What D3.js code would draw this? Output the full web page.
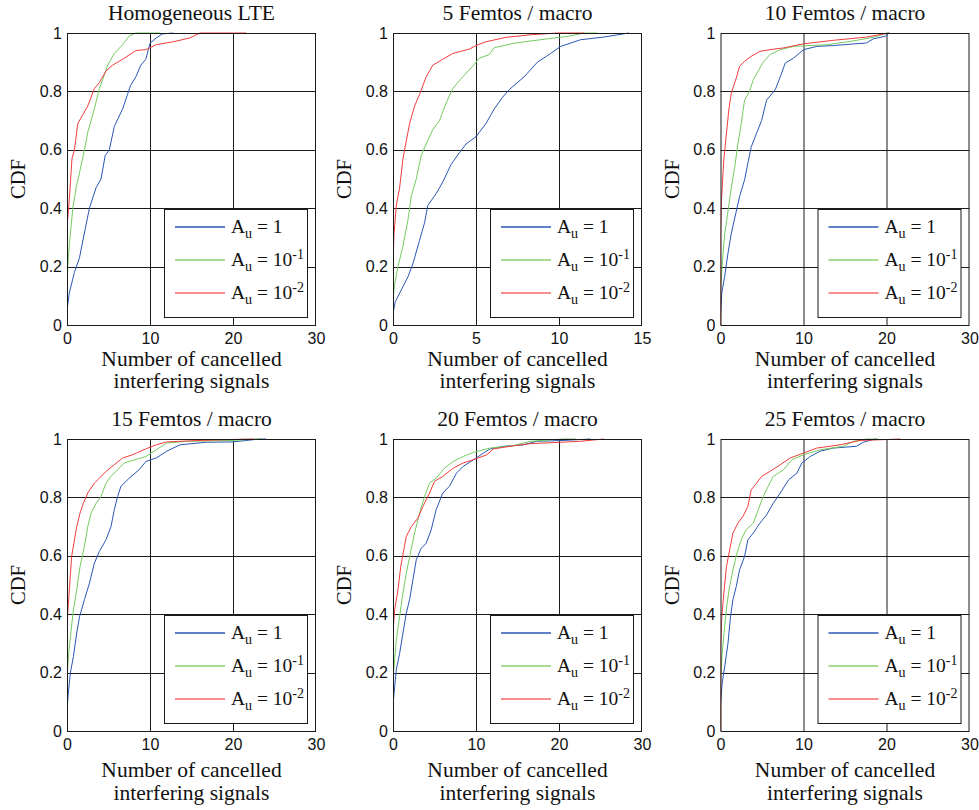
<!DOCTYPE html>
<html>
<head>
<meta charset="utf-8">
<script src="https://cdn.jsdelivr.net/npm/d3@7"></script>
<style>
  html, body { margin: 0; padding: 0; background: #fff; }
  svg { display: block; }
</style>
</head>
<body>
<svg id="chart" width="979" height="810"></svg>
<script>
// ---------------- DATA ----------------
const panelTitles = ["Homogeneous LTE", "5 Femtos / macro", "10 Femtos / macro",
                     "15 Femtos / macro", "20 Femtos / macro", "25 Femtos / macro"];
const xMaxValues = [30, 15, 30, 30, 30, 30];
const xTicks30 = [0, 10, 20, 30];
const xTicks15 = [0, 5, 10, 15];
const yTicks = [0, 0.2, 0.4, 0.6, 0.8, 1];
const yTickLabels = ["0", "0.2", "0.4", "0.6", "0.8", "1"];
const seriesNames = ["Au1", "Au01", "Au001"];
const legendExponents = [null, "-1", "-2"];
const xLabelLines = ["Number of cancelled", "interfering signals"];
const yLabel = "CDF";

// Homogeneous LTE
const lte_Au1 = [[0,0],[0,0.05],[0.28,0.11],[0.89,0.18],[1.5,0.23],[2.2,0.33],[2.7,0.40],[3.5,0.47],[4.1,0.50],[4.6,0.58],[5.1,0.60],[5.7,0.68],[6.7,0.74],[7.3,0.79],[7.65,0.82],[8.3,0.85],[8.9,0.89],[9.5,0.91],[10,0.965],[10.75,0.983],[11.5,0.997],[12.8,1.0]];
const lte_Au01 = [[0,0],[0,0.15],[0.2,0.25],[0.5,0.34],[0.7,0.40],[1.1,0.47],[1.5,0.52],[2.1,0.60],[2.5,0.66],[3.3,0.74],[3.9,0.81],[4.3,0.84],[4.9,0.89],[5.7,0.93],[6.7,0.96],[7.5,0.99],[8.3,1],[11.2,1]];
const lte_Au001 = [[0,0],[0,0.35],[0.08,0.36],[0.28,0.43],[0.6,0.57],[0.9,0.60],[1.3,0.69],[1.9,0.72],[2.5,0.75],[3.3,0.81],[3.9,0.83],[4.7,0.87],[5.5,0.89],[6.7,0.91],[8.3,0.94],[9.5,0.943],[10.75,0.96],[12.8,0.97],[14.8,0.983],[16,1.0],[21.6,1]];

// 5 Femtos / macro
const f5_Au1 = [[0,0],[0,0.04],[0.14,0.08],[0.5,0.12],[0.9,0.165],[1.2,0.21],[1.6,0.29],[1.9,0.35],[2.1,0.41],[2.6,0.45],[3.0,0.49],[3.5,0.55],[4.0,0.59],[4.4,0.62],[5.0,0.645],[5.6,0.69],[6.1,0.74],[6.6,0.78],[7.0,0.806],[7.9,0.85],[8.7,0.90],[9.5,0.93],[10.1,0.954],[11.3,0.977],[12.7,0.986],[14.2,1.0]];
const f5_Au01 = [[0,0],[0,0.09],[0.1,0.14],[0.3,0.2],[0.6,0.27],[0.9,0.36],[1.1,0.44],[1.4,0.50],[1.7,0.58],[2.0,0.62],[2.4,0.67],[2.8,0.70],[3.2,0.76],[3.6,0.81],[4.2,0.85],[4.8,0.886],[5.2,0.914],[5.8,0.926],[6.1,0.95],[7.4,0.966],[9.3,0.98],[10.7,0.99],[11.5,1.0],[12.3,1.0]];
const f5_Au001 = [[0,0],[0,0.21],[0.06,0.31],[0.2,0.41],[0.4,0.47],[0.6,0.57],[0.8,0.63],[1.0,0.69],[1.3,0.75],[1.6,0.79],[2.0,0.85],[2.4,0.89],[3.0,0.91],[3.6,0.93],[4.6,0.945],[5.0,0.957],[5.6,0.97],[6.8,0.985],[8.3,0.994],[9.9,1],[11.5,1]];

// 10 Femtos / macro
const f10_Au1 = [[0,0],[0,0.03],[0.16,0.11],[0.5,0.166],[0.9,0.246],[1.3,0.314],[1.85,0.383],[2.3,0.44],[2.9,0.497],[3.3,0.554],[3.7,0.61],[4.35,0.657],[4.95,0.70],[5.55,0.77],[6.6,0.806],[7.2,0.85],[7.8,0.897],[8.8,0.914],[10,0.943],[11.6,0.954],[13.6,0.957],[17.6,0.966],[18.4,0.98],[19.85,0.989],[20.3,1]];
const f10_Au01 = [[0,0],[0,0.12],[0.24,0.22],[0.5,0.31],[0.9,0.39],[1.3,0.47],[1.7,0.54],[2.1,0.62],[2.5,0.69],[2.9,0.77],[3.5,0.80],[3.95,0.84],[4.55,0.87],[5.15,0.90],[5.95,0.926],[7.2,0.943],[8.8,0.954],[12.8,0.96],[15.6,0.971],[18.4,0.985],[20,1],[20.4,1]];
const f10_Au001 = [[0,0],[0,0.31],[0.12,0.43],[0.4,0.566],[0.72,0.657],[1.0,0.737],[1.3,0.794],[1.9,0.846],[2.3,0.886],[2.9,0.903],[3.7,0.92],[4.75,0.937],[5.95,0.943],[7.6,0.949],[10,0.963],[13.6,0.975],[17.6,0.986],[20.3,1]];

// 15 Femtos / macro
const f15_Au1 = [[0,0],[0,0.07],[0.16,0.13],[0.4,0.198],[0.77,0.255],[1.17,0.335],[1.5,0.39],[2.1,0.45],[2.7,0.506],[3.3,0.575],[3.9,0.615],[4.7,0.655],[5.3,0.70],[5.7,0.758],[6.1,0.803],[6.5,0.838],[7.5,0.866],[8.7,0.895],[9.5,0.923],[10.75,0.935],[12,0.958],[13.6,0.98],[16.8,0.989],[20,0.99],[23.2,1],[24,1]];
const f15_Au01 = [[0,0],[0,0.18],[0.2,0.266],[0.5,0.346],[0.77,0.415],[1.17,0.483],[1.57,0.563],[2.1,0.632],[2.5,0.70],[2.9,0.746],[3.5,0.78],[4.1,0.803],[4.7,0.849],[5.3,0.872],[6.1,0.895],[6.9,0.918],[8.3,0.93],[9.5,0.94],[10.75,0.963],[12,0.986],[14.4,0.992],[20,0.995],[22.8,1],[23.5,1]];
const f15_Au001 = [[0,0],[0,0.29],[0.08,0.40],[0.28,0.483],[0.56,0.598],[0.9,0.655],[1.17,0.70],[1.57,0.746],[1.97,0.78],[2.5,0.815],[3.3,0.849],[3.9,0.866],[4.7,0.889],[5.7,0.912],[6.7,0.935],[7.9,0.946],[9.5,0.966],[10.75,0.98],[12,0.99],[16,0.995],[22,1],[22.5,1]];

// 20 Femtos / macro
const f20_Au1 = [[0,0],[0,0.09],[0.2,0.152],[0.4,0.21],[0.8,0.266],[1.2,0.335],[1.6,0.403],[2.0,0.45],[2.4,0.518],[2.8,0.586],[3.4,0.626],[4.0,0.643],[4.6,0.689],[5.2,0.758],[6.0,0.815],[6.8,0.838],[7.65,0.883],[8.45,0.906],[9.7,0.929],[10.9,0.952],[11.7,0.966],[13.3,0.975],[15.7,0.98],[17.3,0.992],[20.5,0.995],[23.8,1]];
const f20_Au01 = [[0,0],[0,0.18],[0.2,0.243],[0.4,0.312],[0.8,0.392],[1.13,0.46],[1.6,0.54],[2.1,0.61],[2.6,0.678],[3.2,0.746],[3.8,0.803],[4.4,0.849],[5.2,0.866],[6.2,0.9],[7.25,0.923],[8.45,0.94],[9.7,0.954],[11.7,0.969],[14.5,0.977],[16.5,0.992],[20.5,1],[22,1]];
const f20_Au001 = [[0,0],[0,0.34],[0.2,0.415],[0.6,0.483],[0.93,0.563],[1.3,0.62],[1.6,0.666],[2.2,0.70],[3.0,0.729],[3.6,0.769],[4.4,0.815],[5.0,0.855],[6.0,0.872],[7.25,0.90],[8.45,0.918],[9.7,0.929],[11.3,0.946],[12.1,0.966],[14.1,0.975],[16.5,0.984],[22.5,0.992],[25.4,1]];

// 25 Femtos / macro
const f25_Au1 = [[0,0],[0,0.09],[0.2,0.163],[0.5,0.22],[0.9,0.30],[1.2,0.39],[1.5,0.45],[1.9,0.495],[2.3,0.552],[2.9,0.598],[3.3,0.655],[3.95,0.678],[4.75,0.712],[5.55,0.74],[6.35,0.78],[7.2,0.815],[8.2,0.86],[9.2,0.883],[9.8,0.918],[10.8,0.94],[12,0.958],[13.6,0.969],[16.4,0.975],[17.2,0.989],[18.4,0.998],[18.8,1]];
const f25_Au01 = [[0,0],[0,0.17],[0.2,0.266],[0.5,0.358],[0.8,0.438],[1.1,0.495],[1.5,0.552],[2.0,0.61],[2.5,0.655],[3.1,0.69],[3.95,0.712],[4.55,0.758],[5.15,0.803],[5.75,0.838],[6.35,0.872],[7.6,0.895],[8.6,0.929],[10,0.946],[12,0.963],[14.8,0.975],[16,0.992],[17.6,1],[19,1]];
const f25_Au001 = [[0,0],[0,0.28],[0.16,0.392],[0.44,0.483],[0.72,0.563],[1.1,0.62],[1.5,0.678],[2.1,0.712],[2.7,0.735],[3.3,0.769],[3.7,0.826],[4.35,0.849],[4.95,0.872],[5.95,0.889],[7.2,0.912],[8.4,0.935],[10,0.952],[11.6,0.969],[14.4,0.98],[16.8,0.995],[21.7,1]];

const panelSeries = [
  [lte_Au1, lte_Au01, lte_Au001],
  [f5_Au1, f5_Au01, f5_Au001],
  [f10_Au1, f10_Au01, f10_Au001],
  [f15_Au1, f15_Au01, f15_Au001],
  [f20_Au1, f20_Au01, f20_Au001],
  [f25_Au1, f25_Au01, f25_Au001]
];

// ---------------- STYLE / LAYOUT ----------------
const colors = ["#2a56b4", "#74cc60", "#f23c3c"];
const legendColors = ["#2a56b4", "#a6dc94", "#f46a6a"];
const serif = "'Liberation Serif', 'Times New Roman', Times, serif";
const sans = "'Liberation Sans', Arial, Helvetica, sans-serif";
const colX = [67, 393, 720.5];
const rowY = [33, 439];
const plotW = 249, plotH = 292;
const xLabelOffsets = [[41, 63], [46, 69]];

const svg = d3.select("#chart");

panelTitles.forEach((title, i) => {
  const col = i % 3, row = Math.floor(i / 3);
  const left = colX[col], top = rowY[row];
  const g = svg.append("g").attr("transform", `translate(${left},${top})`);

  const x = d3.scaleLinear().domain([0, xMaxValues[i]]).range([0, plotW]);
  const y = d3.scaleLinear().domain([0, 1]).range([plotH, 0]);
  const xt = xMaxValues[i] === 15 ? xTicks15 : xTicks30;

  // grid
  g.append("g").selectAll("line").data(xt.slice(1, -1)).join("line")
    .attr("x1", d => Math.round(x(d)) + 0.5).attr("x2", d => Math.round(x(d)) + 0.5)
    .attr("y1", 0).attr("y2", plotH)
    .attr("stroke", "#1a1a1a").attr("stroke-width", 1);
  g.append("g").selectAll("line").data(yTicks.slice(1, -1)).join("line")
    .attr("y1", d => Math.round(y(d)) + 0.5).attr("y2", d => Math.round(y(d)) + 0.5)
    .attr("x1", 0).attr("x2", plotW)
    .attr("stroke", "#1a1a1a").attr("stroke-width", 1);

  // clip
  const clipId = "clip" + i;
  g.append("clipPath").attr("id", clipId).append("rect")
    .attr("x", 0).attr("y", -1).attr("width", plotW).attr("height", plotH + 1);

  const line = d3.line().x(d => x(d[0])).y(d => y(d[1]));
  const curves = g.append("g").attr("clip-path", `url(#${clipId})`);
  panelSeries[i].forEach((s, k) => {
    curves.append("path").datum(s)
      .attr("d", line)
      .attr("fill", "none")
      .attr("stroke", colors[k])
      .attr("stroke-width", 1)
      .attr("stroke-linejoin", "round");
  });

  // axes with d3 axis generators (labels only, MATLAB-like)
  const xAxis = d3.axisBottom(x).tickValues(xt).tickSize(0).tickPadding(8).tickFormat(d3.format("d"));
  const gx = g.append("g").attr("transform", `translate(0,${plotH})`).call(xAxis);
  gx.select(".domain").remove();
  gx.selectAll("text").attr("font-family", sans).attr("font-size", 16).attr("fill", "#111")
    .attr("dy", "0.71em");

  const yAxis = d3.axisLeft(y).tickValues(yTicks).tickSize(0).tickPadding(5)
    .tickFormat((d, j) => yTickLabels[j]);
  const gy = g.append("g").call(yAxis);
  gy.select(".domain").remove();
  gy.selectAll("text").attr("font-family", sans).attr("font-size", 16).attr("fill", "#111");

  // box
  g.append("rect").attr("x", 0.5).attr("y", 0.5).attr("width", plotW - 1).attr("height", plotH)
    .attr("fill", "none").attr("stroke", "#1a1a1a").attr("stroke-width", 1);

  // legend
  const lgW = 143, lgH = 108;
  const lg = g.append("g").attr("transform", `translate(${plotW - 9 - lgW},${plotH - 8 - lgH})`);
  lg.append("rect").attr("x", 0.5).attr("y", 0.5).attr("width", lgW).attr("height", lgH)
    .attr("fill", "#fff").attr("stroke", "#1a1a1a").attr("stroke-width", 1);
  seriesNames.forEach((nm, k) => {
    const ly = 18 + k * 33;
    lg.append("line").attr("x1", 11).attr("x2", 61).attr("y1", ly).attr("y2", ly)
      .attr("stroke", legendColors[k]).attr("stroke-width", k === 1 ? 2 : 1.3);
    const t = lg.append("text").attr("x", 67).attr("y", ly + 6)
      .attr("font-family", serif).attr("font-size", 19.5).attr("fill", "#111");
    t.append("tspan").text("A");
    t.append("tspan").attr("font-size", 14).attr("dy", 5).text("u");
    if (legendExponents[k] === null) {
      t.append("tspan").attr("dy", -5).text(" = 1");
    } else {
      t.append("tspan").attr("dy", -5).text(" = 10");
      t.append("tspan").attr("font-size", 14).attr("dy", -7).text(legendExponents[k]);
    }
  });

  // title
  g.append("text").attr("x", plotW / 2).attr("y", -13)
    .attr("text-anchor", "middle").attr("font-family", serif).attr("font-size", 21.5)
    .attr("fill", "#111").text(title);

  // x label
  xLabelLines.forEach((ln, k) => {
    g.append("text").attr("x", plotW / 2).attr("y", plotH + xLabelOffsets[row][k])
      .attr("text-anchor", "middle").attr("font-family", serif).attr("font-size", 21.5)
      .attr("fill", "#111").text(ln);
  });

  // y label
  g.append("text")
    .attr("transform", `translate(-42,${plotH / 2}) rotate(-90)`)
    .attr("text-anchor", "middle").attr("font-family", serif).attr("font-size", 20.5)
    .attr("fill", "#111").text(yLabel);
});
</script>
</body>
</html>
